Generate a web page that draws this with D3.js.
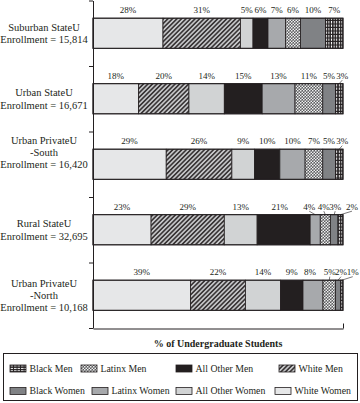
<!DOCTYPE html>
<html>
<head>
<meta charset="utf-8">
<script src="https://cdn.jsdelivr.net/npm/d3@7"></script>
<style>
  html, body { margin: 0; padding: 0; background: #fff; }
  svg { display: block; }
  text { font-family: "Liberation Serif", "Times New Roman", serif; fill: #231f20; }
</style>
</head>
<body>
<div id="chart"></div>
<script>
// ---- data ----
const categories = ["White Women", "White Men", "All Other Women", "All Other Men",
                    "Latinx Women", "Latinx Men", "Black Women", "Black Men"];
const schoolNames = [["Suburban StateU"], ["Urban StateU"], ["Urban PrivateU", "-South"],
                     ["Rural StateU"], ["Urban PrivateU", "-North"]];
const enrollment = [15814, 16671, 16420, 32695, 10168];
const whiteWomen    = [28, 18, 29, 23, 39];
const whiteMen      = [31, 20, 26, 29, 22];
const allOtherWomen = [5, 14, 9, 13, 14];
const allOtherMen   = [6, 15, 10, 21, 9];
const latinxWomen   = [7, 13, 10, 4, 8];
const latinxMen     = [6, 11, 7, 4, 5];
const blackWomen    = [10, 5, 5, 3, 2];
const blackMen      = [7, 3, 3, 2, 1];
const axisTitle = "% of Undergraduate Students";
const legendRows = [["Black Men", "Latinx Men", "All Other Men", "White Men"],
                    ["Black Women", "Latinx Women", "All Other Women", "White Women"]];

// ---- layout (not data) ----
const W = 360, H = 403;
const fills = {
  "White Women": "#e6e7e8", "White Men": "url(#hatch)", "All Other Women": "#d1d3d4",
  "All Other Men": "#231f20", "Latinx Women": "#a7a9ac", "Latinx Men": "url(#dots)",
  "Black Women": "#808285", "Black Men": "url(#dash)"
};
const legendFills = Object.assign({}, fills, { "Black Men": "url(#dashH)" });
// label nudges: [dx, drawLeader]
const nudges = {
  1: { "Black Men": [3, true] },
  2: { "Black Men": [3, true] },
  3: { "All Other Men": [-4, false], "Latinx Women": [-6, true], "Latinx Men": [-1.5, true],
       "Black Women": [1, true], "Black Men": [11.5, true] },
  4: { "Latinx Women": [-3, false], "Latinx Men": [0.5, true], "Black Women": [3, true], "Black Men": [11, true] }
};
const labelShift = { 2: -12 };
const legendX = [[10, 81, 176, 279], [10, 92, 176, 275]];

const seriesArrays = [whiteWomen, whiteMen, allOtherWomen, allOtherMen, latinxWomen, latinxMen, blackWomen, blackMen];
const rows = schoolNames.map((n, i) => {
  const o = { idx: i };
  categories.forEach((c, j) => o[c] = seriesArrays[j][i]);
  return o;
});

const svg = d3.select("#chart").append("svg").attr("width", W).attr("height", H);
const defs = svg.append("defs");
// hatch
const ph = defs.append("pattern").attr("id", "hatch").attr("patternUnits", "userSpaceOnUse")
  .attr("width", 3.2).attr("height", 3.2).attr("patternTransform", "rotate(45)");
ph.append("rect").attr("width", 3.2).attr("height", 3.2).attr("fill", "#c4c5c7");
ph.append("rect").attr("width", 1.6).attr("height", 3.2).attr("fill", "#3a3637");
// dots
const pd = defs.append("pattern").attr("id", "dots").attr("patternUnits", "userSpaceOnUse")
  .attr("width", 3).attr("height", 3);
pd.append("rect").attr("width", 3).attr("height", 3).attr("fill", "#5d5e60");
pd.append("circle").attr("cx", 0.75).attr("cy", 0.75).attr("r", 0.85).attr("fill", "#f2f2f2");
pd.append("circle").attr("cx", 2.25).attr("cy", 2.25).attr("r", 0.85).attr("fill", "#f2f2f2");
// dashes (vertical, for bars)
const pv = defs.append("pattern").attr("id", "dash").attr("patternUnits", "userSpaceOnUse")
  .attr("width", 2.6).attr("height", 3.5);
pv.append("rect").attr("width", 2.6).attr("height", 3.5).attr("fill", "#231f20");
pv.append("rect").attr("x", 0.8).attr("y", 0).attr("width", 1).attr("height", 2.4).attr("fill", "#ffffff");
// dashes (horizontal, for legend)
const pH = defs.append("pattern").attr("id", "dashH").attr("patternUnits", "userSpaceOnUse")
  .attr("width", 3.5).attr("height", 2.4);
pH.append("rect").attr("width", 3.5).attr("height", 2.4).attr("fill", "#231f20");
pH.append("rect").attr("x", 0).attr("y", 0.7).attr("width", 2.6).attr("height", 0.9).attr("fill", "#ffffff");

const x = d3.scaleLinear().domain([0, 1]).range([93, 343]);
const yTicks = d3.scaleLinear().domain([0, rows.length]).range([0.5, 328]);
const y = d3.scaleBand().domain(rows.map(r => r.idx)).range([0.5, 328])
  .paddingInner(0.54).paddingOuter(0.27);

const stack = d3.stack().keys(categories).offset(d3.stackOffsetExpand);
const series = stack(rows);

// bars
const g = svg.append("g");
series.forEach(s => {
  g.selectAll(null).data(s).join("rect")
    .attr("x", d => x(d[0]))
    .attr("y", d => y(d.data.idx))
    .attr("width", d => x(d[1]) - x(d[0]))
    .attr("height", y.bandwidth())
    .attr("fill", fills[s.key])
    .attr("stroke", "#231f20").attr("stroke-width", 0.8);
});
g.selectAll(".outline").data(rows).join("rect")
  .attr("x", x(0)).attr("y", d => y(d.idx)).attr("width", x(1) - x(0)).attr("height", y.bandwidth())
  .attr("fill", "none").attr("stroke", "#231f20").attr("stroke-width", 1);

// value labels
series.forEach(s => {
  s.forEach(d => {
    const i = d.data.idx;
    const cx = (x(d[0]) + x(d[1])) / 2;
    const nd = (nudges[i] && nudges[i][s.key]) || [0, false];
    const top = y(i);
    const base = top - 5;
    g.append("text").attr("x", cx + nd[0]).attr("y", base)
      .attr("text-anchor", "middle").attr("font-size", 9)
      .text(d.data[s.key] + "%");
    if (nd[1]) {
      g.append("line").attr("x1", cx + nd[0]).attr("y1", base + 1.5)
        .attr("x2", cx).attr("y2", top)
        .attr("stroke", "#231f20").attr("stroke-width", 0.6);
    }
  });
});

// row labels
rows.forEach(r => {
  const lines = schoolNames[r.idx].concat(["Enrollment = " + d3.format(",")(enrollment[r.idx])]);
  const cy = y(r.idx) + y.bandwidth() / 2 + (labelShift[r.idx] || 0);
  const lh = 12.2;
  lines.forEach((ln, k) => {
    svg.append("text").attr("x", 44).attr("y", cy + (k - (lines.length - 1) / 2) * lh + 3.7)
      .attr("text-anchor", "middle").attr("font-size", 10.5).text(ln);
  });
});

// axes
const yAxis = d3.axisLeft(yTicks).tickValues(d3.range(rows.length + 1)).tickFormat("")
  .tickSizeInner(4).tickSizeOuter(0);
svg.append("g").attr("transform", "translate(93,0)").call(yAxis)
  .call(a => a.selectAll("path,line").attr("stroke", "#231f20").attr("stroke-width", 1));
const xAxis = d3.axisBottom(x).tickValues([1]).tickFormat("").tickSizeInner(-5).tickSizeOuter(0);
svg.append("g").attr("transform", "translate(0,328.5)").call(xAxis)
  .call(a => a.selectAll("path,line").attr("stroke", "#231f20").attr("stroke-width", 1));

svg.append("text").attr("x", (x(0) + x(1)) / 2).attr("y", 347)
  .attr("text-anchor", "middle").attr("font-size", 10).attr("font-weight", "bold").text(axisTitle);

// legend
svg.append("rect").attr("x", 3.5).attr("y", 353.5).attr("width", 354).attr("height", 47)
  .attr("fill", "none").attr("stroke", "#231f20").attr("stroke-width", 1);
legendRows.forEach((row, ri) => {
  const cy = 368.5 + ri * 22.5;
  row.forEach((cat, ci) => {
    const lx = legendX[ri][ci];
    svg.append("rect").attr("x", lx).attr("y", cy - 3.5).attr("width", 16).attr("height", 7)
      .attr("fill", legendFills[cat]).attr("stroke", "#231f20").attr("stroke-width", 0.8);
    svg.append("text").attr("x", lx + 19.5).attr("y", cy + 3.4).attr("font-size", 9.8).text(cat);
  });
});
</script>
</body>
</html>
